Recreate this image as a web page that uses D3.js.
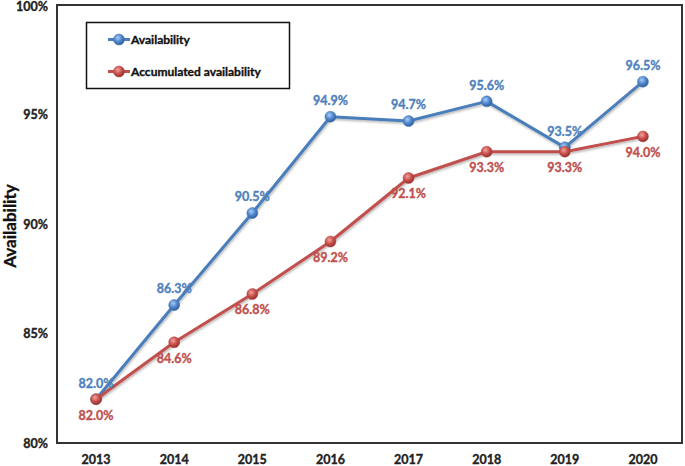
<!DOCTYPE html>
<html>
<head>
<meta charset="utf-8">
<script src="https://cdn.jsdelivr.net/npm/d3@7"></script>
<style>
  html, body { margin: 0; padding: 0; background: #fff; }
  svg { display: block; }
  text { font-family: Lato, "Open Sans", sans-serif; font-weight: bold; }
</style>
</head>
<body>
<svg id="chart" width="685" height="466"></svg>
<script>
const years = ["2013", "2014", "2015", "2016", "2017", "2018", "2019", "2020"];
const availability = [82.0, 86.3, 90.5, 94.9, 94.7, 95.6, 93.5, 96.5];
const accumulated = [82.0, 84.6, 86.8, 89.2, 92.1, 93.3, 93.3, 94.0];
const yTicks = [80, 85, 90, 95, 100];
const seriesNames = ["Availability", "Accumulated availability"];

const svg = d3.select("#chart");
const plot = { left: 57, right: 682, top: 5, bottom: 443 };

const x = d3.scaleBand().domain(years).range([plot.left, plot.right]);
const y = d3.scaleLinear().domain([80, 100]).range([plot.bottom, plot.top]);
const cx = d => x(d) + x.bandwidth() / 2;

const defs = svg.append("defs");
function grad(id, c0, c1, c2) {
  const g = defs.append("radialGradient").attr("id", id)
    .attr("cx", "40%").attr("cy", "35%").attr("r", "65%");
  g.append("stop").attr("offset", "0%").attr("stop-color", c0);
  g.append("stop").attr("offset", "55%").attr("stop-color", c1);
  g.append("stop").attr("offset", "100%").attr("stop-color", c2);
}
grad("gBlue", "#a9cdf5", "#4f86cc", "#2f5f9e");
grad("gRed", "#f2a3a0", "#c9504c", "#962f2c");
const sh = defs.append("filter").attr("id", "shadow").attr("x", "-10%").attr("y", "-10%").attr("width", "120%").attr("height", "130%");
sh.append("feDropShadow").attr("dx", 0.8).attr("dy", 1.5).attr("stdDeviation", 1).attr("flood-color", "#000").attr("flood-opacity", 0.3);

function heavy(sel, color) {
  sel.attr("fill", color).attr("stroke", color).attr("stroke-width", 0.35)
    .attr("font-family", "Lato, sans-serif").attr("font-weight", "bold");
}

// Axis tick labels
const yAxis = d3.axisLeft(y).tickValues(yTicks).tickSize(0).tickPadding(9).tickFormat(d => d + "%");
const gy = svg.append("g").attr("transform", `translate(${plot.left},0)`).call(yAxis);
gy.select(".domain").remove();
gy.selectAll("text").attr("font-size", 12.5).call(heavy, "#222");
gy.selectAll(".tick").filter(d => d === 100).select("text").attr("dy", "0.45em");

const xAxis = d3.axisBottom(x).tickSize(0).tickPadding(12);
const gx = svg.append("g").attr("transform", `translate(0,${plot.bottom})`).call(xAxis);
gx.select(".domain").remove();
gx.selectAll("text").attr("font-size", 12.5).call(heavy, "#222");

// Plot frame
svg.append("rect")
  .attr("x", plot.left).attr("y", plot.top)
  .attr("width", plot.right - plot.left).attr("height", plot.bottom - plot.top)
  .attr("fill", "none").attr("stroke", "#333").attr("stroke-width", 2);

// Y axis title
svg.append("text")
  .attr("transform", `translate(16,${(plot.top + plot.bottom) / 2 + 2}) rotate(-90)`)
  .attr("text-anchor", "middle")
  .attr("font-size", 17).call(heavy, "#111")
  .text("Availability");

const line = d3.line().x((d, i) => cx(years[i])).y(d => y(d));

function drawSeries(vals, color, gradId) {
  svg.append("path").datum(vals)
    .attr("d", line).attr("fill", "none")
    .attr("stroke", color).attr("stroke-width", 3)
    .attr("stroke-linejoin", "round")
    .attr("filter", "url(#shadow)");
  svg.append("g").selectAll("circle").data(vals).join("circle")
    .attr("cx", (d, i) => cx(years[i])).attr("cy", d => y(d))
    .attr("r", 5.5).attr("fill", `url(#${gradId})`)
    .attr("stroke", d3.color(color).darker(0.3)).attr("stroke-width", 0.5);
}
drawSeries(availability, "#4a7ebb", "gBlue");
drawSeries(accumulated, "#c0504d", "gRed");

// Data labels
svg.append("g").selectAll("text").data(availability).join("text")
  .attr("x", (d, i) => cx(years[i])).attr("y", d => y(d) - 16)
  .attr("dy", "0.35em").attr("text-anchor", "middle")
  .attr("font-size", 12.5).call(heavy, "#4f81bd")
  .text(d => d.toFixed(1) + "%");
svg.append("g").selectAll("text").data(accumulated).join("text")
  .attr("x", (d, i) => cx(years[i])).attr("y", d => y(d) + 16)
  .attr("dy", "0.35em").attr("text-anchor", "middle")
  .attr("font-size", 12.5).call(heavy, "#c0504d")
  .text(d => d.toFixed(1) + "%");

// Legend
const lg = svg.append("g");
lg.append("rect").attr("x", 86.5).attr("y", 22.5).attr("width", 203).attr("height", 66)
  .attr("fill", "#fff").attr("stroke", "#111").attr("stroke-width", 1.5);
const legendItems = [
  { name: seriesNames[0], color: "#4a7ebb", grad: "gBlue", y: 39.5 },
  { name: seriesNames[1], color: "#c0504d", grad: "gRed", y: 71.5 }
];
legendItems.forEach(it => {
  lg.append("line").attr("x1", 108).attr("x2", 130).attr("y1", it.y).attr("y2", it.y)
    .attr("stroke", it.color).attr("stroke-width", 3);
  lg.append("circle").attr("cx", 119).attr("cy", it.y).attr("r", 5.5)
    .attr("fill", `url(#${it.grad})`).attr("stroke", d3.color(it.color).darker(0.3)).attr("stroke-width", 0.5);
  lg.append("text").attr("x", 131).attr("y", it.y).attr("dy", "0.35em")
    .attr("font-size", 12).call(heavy, "#111").text(it.name);
});
</script>
</body>
</html>
